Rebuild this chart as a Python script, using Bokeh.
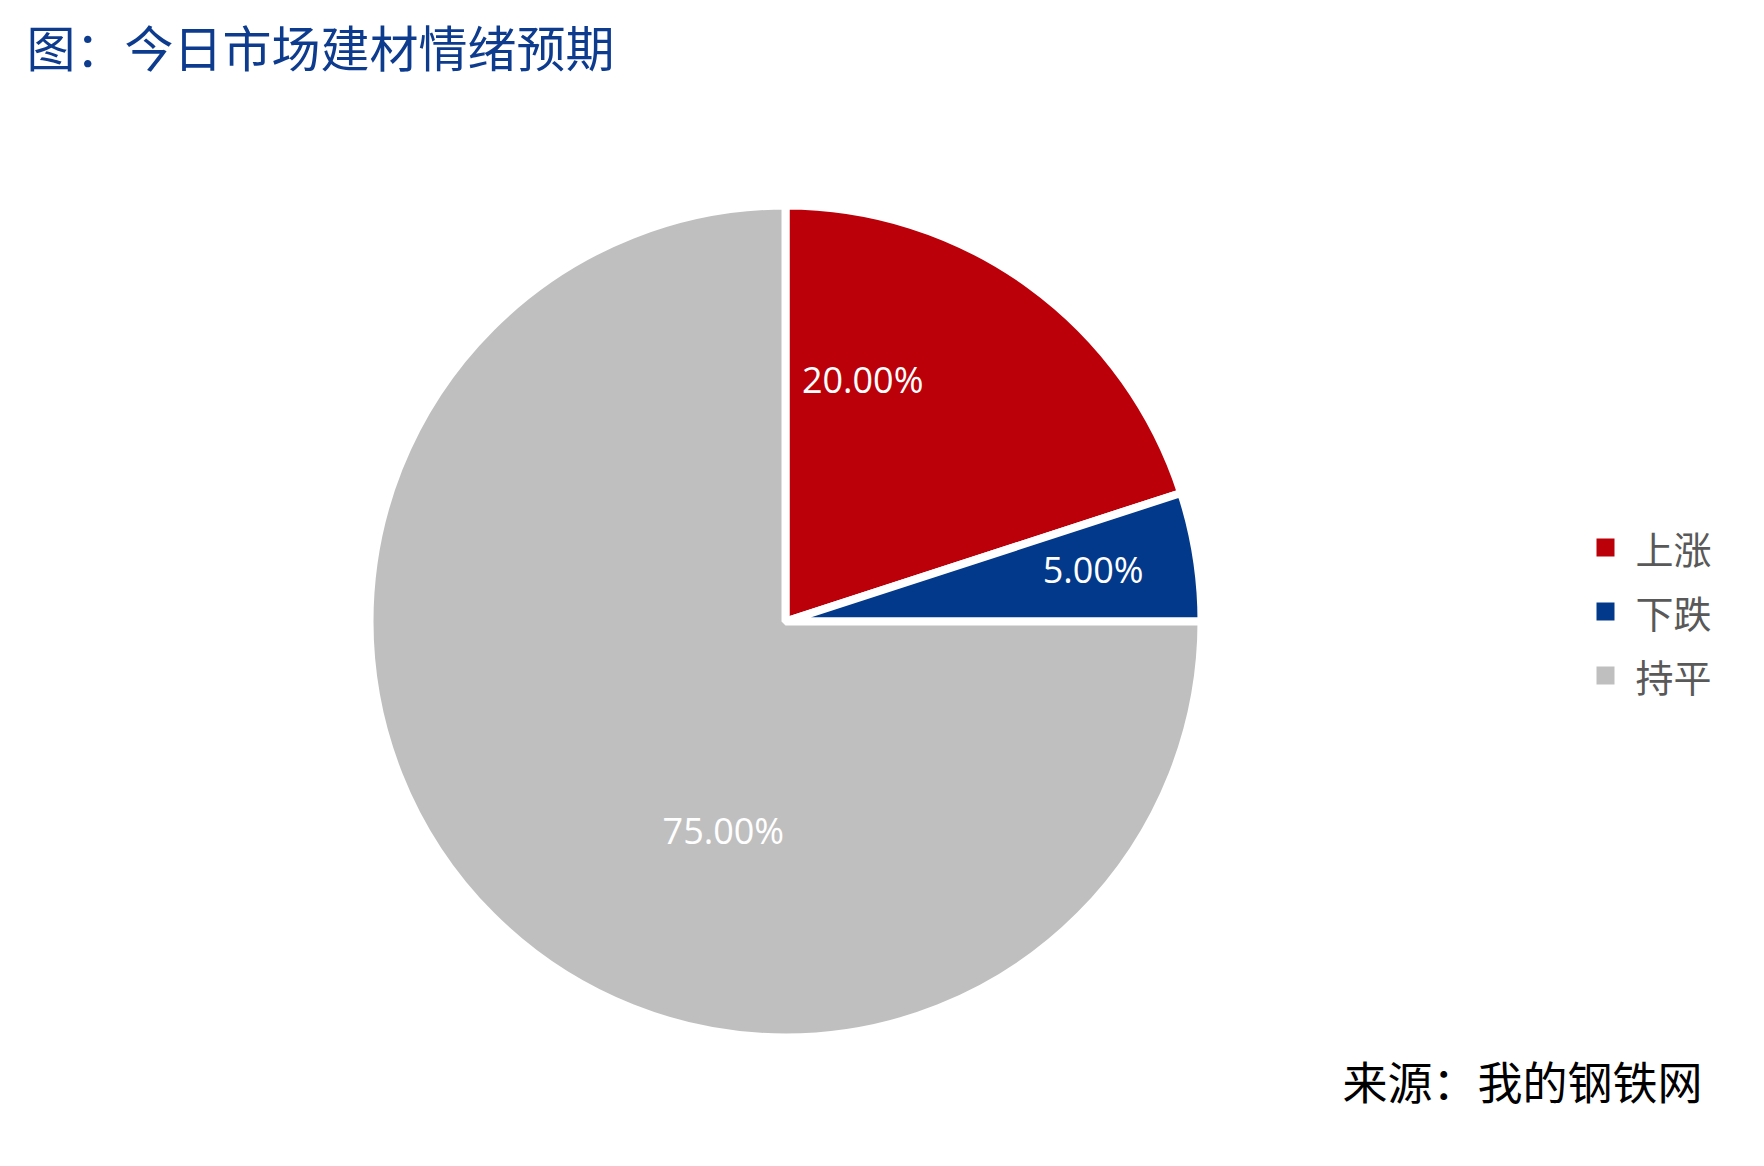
import math
from bokeh.plotting import figure
from bokeh.models import Range1d, ColumnDataSource
from bokeh.core.properties import value
from bokeh.embed import file_html
from bokeh.resources import INLINE

# ---- data ----
categories = ["上涨", "下跌", "持平"]
shares = [20.0, 5.0, 75.0]
colors = ["#BB0009", "#02398A", "#BFBFBF"]
title_text = "图：今日市场建材情绪预期"
source_text = "来源：我的钢铁网"

# ---- layout (pixels in figure space, y up) ----
W, H = 1748, 1150
cx, cy, R = 785, 529, 416
label_r_frac = [0.61, 0.75, 0.523]
label_ang_deg = [72.3, 9.6, 253.4]
legend_x, legend_y0, legend_dy = 1605, 603, 64

p = figure(width=W, height=H, output_backend="svg", toolbar_location=None,
           x_range=Range1d(0, W), y_range=Range1d(0, H),
           x_axis_location=None, y_axis_location=None,
           min_border=0, outline_line_color=None, background_fill_color="white",
           border_fill_color="white")
p.grid.visible = False

total = sum(shares)
starts, ends = [], []
cum = 0.0
for v in shares:
    s_cw = cum / total
    e_cw = (cum + v) / total
    starts.append(math.pi / 2 - e_cw * 2 * math.pi)
    ends.append(math.pi / 2 - s_cw * 2 * math.pi)
    cum += v

src = ColumnDataSource(dict(x=[cx] * 3, y=[cy] * 3, start=starts, end=ends,
                            color=colors, cat=categories))
p.wedge(x="x", y="y", radius=R, start_angle="start", end_angle="end",
        fill_color="color", line_color="white", line_width=8, source=src)

# data labels
lx = [cx + R * f * math.cos(math.radians(a)) for f, a in zip(label_r_frac, label_ang_deg)]
ly = [cy + R * f * math.sin(math.radians(a)) for f, a in zip(label_r_frac, label_ang_deg)]
labels = [f"{v:.2f}%" for v in shares]
p.text(x=lx, y=ly, text=labels, text_color="white", text_font=value("Open Sans"),
       text_font_size="36px", text_align="center", text_baseline="middle")

# legend
ley = [legend_y0 - i * legend_dy for i in range(len(categories))]
p.rect(x=[legend_x] * 3, y=ley, width=18, height=18, width_units="screen",
       height_units="screen", fill_color=colors, line_color=None)
p.text(x=[legend_x + 30] * 3, y=ley, text=categories, text_color="#595959",
       text_font=value("Noto Sans CJK SC"), text_font_size="38px",
       text_align="left", text_baseline="middle")

# title and source
p.text(x=[26], y=[1105], text=[title_text], text_color="#0D3B8E",
       text_font=value("Noto Sans CJK SC"), text_font_size="49px",
       text_align="left", text_baseline="middle")
p.text(x=[1702], y=[70], text=[source_text], text_color="#000000",
       text_font=value("Noto Sans CJK SC"), text_font_size="45px",
       text_align="right", text_baseline="middle")

open("out.html", "w").write(file_html(p, INLINE))
